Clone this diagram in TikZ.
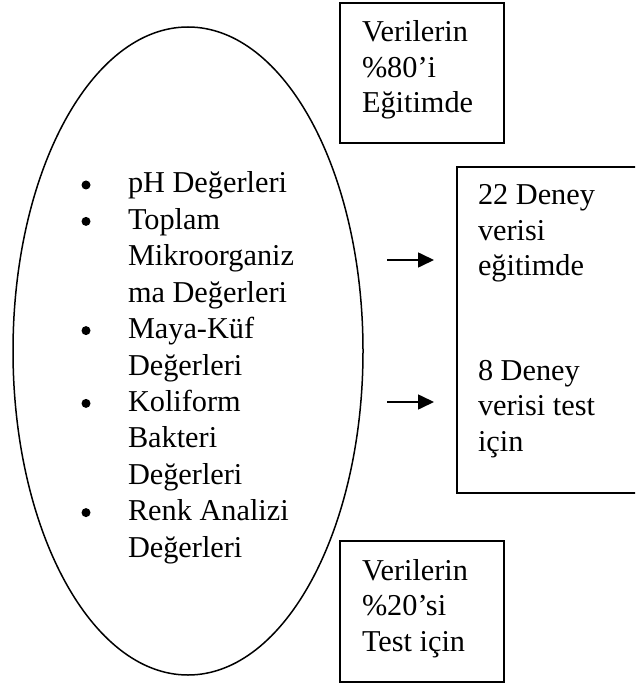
\documentclass[tikz,border=0pt]{standalone}
\usepackage{fontspec}
\setmainfont{Liberation Serif}
\usetikzlibrary{shapes.geometric,arrows.meta}

\begin{document}
\begin{tikzpicture}[x=1pt,y=-1pt,
  every node/.style={inner sep=0pt, outer sep=0pt},
  % multi-line texts are placed by the baseline of their last line
  txt/.style={anchor=base west, align=left, font=\fontsize{30.3}{35.5}\selectfont},
  ltxt/.style={anchor=base west, align=left, font=\fontsize{30.3}{36.4}\selectfont},
  frame/.style={draw, line width=1.8pt, anchor=north west},
  dot/.style={circle, fill, minimum size=9pt},
  link/.style={line width=1.6pt, -{Triangle[length=16pt,width=15pt]}}]
\useasboundingbox (0,0) rectangle (635,684);
\clip (0,0) rectangle (635,684);

% parameter set in the ellipse
\node[ellipse, draw, line width=1.5pt, minimum width=350pt, minimum height=648pt] (ell) at (188,351) {};

\node[dot] (b1) at (86,185) {};
\node[ltxt] (i1) at (128,193) {pH Değerleri};
\node[dot] (b2) at (86,221.4) {};
\node[ltxt] (i2) at (128,302.2) {Toplam\\Mikroorganiz\\ma Değerleri};
\node[dot] (b3) at (86,330.6) {};
\node[ltxt] (i3) at (128,375) {Maya-Küf\\Değerleri};
\node[dot] (b4) at (86,403.4) {};
\node[ltxt] (i4) at (128,484.2) {Koliform\\Bakteri\\Değerleri};
\node[dot] (b5) at (86,512.6) {};
\node[ltxt] (i5) at (128,557) {Renk Analizi\\Değerleri};

% training / test share boxes
\node[frame, minimum width=164pt, minimum height=140pt] (train) at (340,3) {};
\node[txt] (traintxt) at (362,113) {Verilerin\\\%80’i\\Eğitimde};

\node[frame, minimum width=164pt, minimum height=141pt] (test) at (340,541) {};
\node[txt] (testtxt) at (362,651) {Verilerin\\\%20’si\\Test için};

% experiment split box (runs past the right edge)
\node[frame, minimum width=190pt, minimum height=326pt] (split) at (457,167) {};
\node[txt] (s1) at (478,276) {22 Deney\\verisi\\eğitimde};
\node[txt] (s2) at (478,451) {8 Deney\\verisi test\\için};

% arrows
\coordinate (a1s) at (387,260);
\coordinate (a1e) at (434,260);
\coordinate (a2s) at (387,402);
\coordinate (a2e) at (434,402);
\draw[link] (a1s) -- (a1e);
\draw[link] (a2s) -- (a2e);
\end{tikzpicture}
\end{document}
